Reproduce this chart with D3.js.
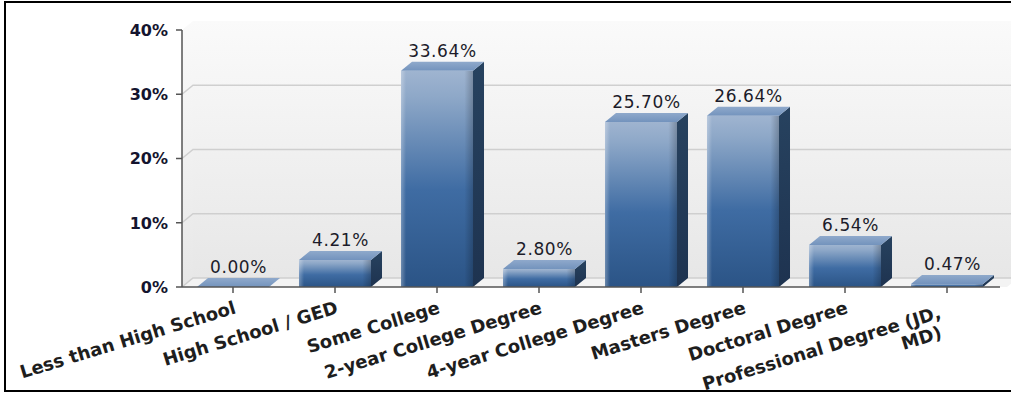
<!DOCTYPE html>
<html>
<head>
<meta charset="utf-8">
<script src="https://cdn.jsdelivr.net/npm/d3@7/dist/d3.min.js"></script>
<style>
  html, body { margin: 0; padding: 0; background: #fff; }
  svg { display: block; }
</style>
</head>
<body>
<svg id="chart" width="1011" height="393"></svg>
<script>
const categories = [
  "Less than High School",
  "High School / GED",
  "Some College",
  "2-year College Degree",
  "4-year College Degree",
  "Masters Degree",
  "Doctoral Degree",
  "Professional Degree (JD, MD)"
];
const values = [0.00, 4.21, 33.64, 2.80, 25.70, 26.64, 6.54, 0.47];
const yTicks = [0, 10, 20, 30, 40];
const yMax = 40;

(function () {
const svg = d3.select("#chart");
const pL = 182, pR = 998, pT = 30, pB = 287;
const depthX = 11, depthY = 9;
const angle = -17;

const x = d3.scaleBand().domain(categories).range([pL, pR])
  .paddingInner(0.294).paddingOuter(0.147);
const y = d3.scaleLinear().domain([0, yMax]).range([pB, pT]);

const defs = svg.append("defs");
const wallG = defs.append("linearGradient").attr("id", "wall").attr("x1", 0).attr("y1", 0).attr("x2", 0).attr("y2", 1);
wallG.append("stop").attr("offset", 0).attr("stop-color", "#fafafa");
wallG.append("stop").attr("offset", 1).attr("stop-color", "#e7e7e7");

const frontG = defs.append("linearGradient").attr("id", "front").attr("x1", 0).attr("y1", 0).attr("x2", 0).attr("y2", 1);
[[0, "#9fb4d0"], [0.12, "#8ea8c8"], [0.55, "#3f6ca3"], [1, "#2b5486"]].forEach(s =>
  frontG.append("stop").attr("offset", s[0]).attr("stop-color", s[1]));

const shadeG = defs.append("linearGradient").attr("id", "shade").attr("x1", 0).attr("y1", 0).attr("x2", 1).attr("y2", 0);
[[0, "#ffffff", 0.30], [0.07, "#ffffff", 0.0], [0.88, "#000000", 0.0], [1, "#000000", 0.22]].forEach(s =>
  shadeG.append("stop").attr("offset", s[0]).attr("stop-color", s[1]).attr("stop-opacity", s[2]));

const sideG = defs.append("linearGradient").attr("id", "side").attr("x1", 0).attr("y1", 0).attr("x2", 0).attr("y2", 1);
sideG.append("stop").attr("offset", 0).attr("stop-color", "#27425f");
sideG.append("stop").attr("offset", 1).attr("stop-color", "#1e3350");

const topG = defs.append("linearGradient").attr("id", "topface").attr("x1", 0).attr("y1", 0).attr("x2", 0).attr("y2", 1);
topG.append("stop").attr("offset", 0).attr("stop-color", "#8fa9cb");
topG.append("stop").attr("offset", 1).attr("stop-color", "#7393bd");

// frame
svg.append("rect").attr("x", 5).attr("y", 2).attr("width", 1010).attr("height", 389)
  .attr("fill", "none").attr("stroke", "#000").attr("stroke-width", 2);

// back wall
svg.append("rect").attr("x", pL + depthX).attr("y", pT - depthY)
  .attr("width", pR - pL + 9).attr("height", pB - pT)
  .attr("fill", "url(#wall)");
// left side wall
svg.append("path")
  .attr("d", `M${pL},${pT} L${pL + depthX},${pT - depthY} L${pL + depthX},${pB - depthY} L${pL},${pB} Z`)
  .attr("fill", "url(#wall)");
// floor
svg.append("path")
  .attr("d", `M${pL},${pB} L${pL + depthX},${pB - depthY} L${pR + depthX + 9},${pB - depthY} L${pR + 9},${pB} Z`)
  .attr("fill", "#f3f3f3");

// gridlines
const grid = svg.append("g");
yTicks.forEach(t => {
  if (t === yMax) return;
  const yy = y(t);
  grid.append("path")
    .attr("d", `M${pL},${yy} L${pL + depthX},${yy - depthY} L${pR + depthX + 9},${yy - depthY}`)
    .attr("fill", "none").attr("stroke", "#cfcfcf").attr("stroke-width", 1.5);
});

// bars
const bars = svg.append("g");
categories.forEach((c, i) => {
  const v = values[i];
  const bx = x(c), bw = x.bandwidth();
  const by = y(v), bh = pB - by;
  const g = bars.append("g");
  if (bh > 0.5) {
    g.append("rect").attr("x", bx).attr("y", by).attr("width", bw).attr("height", bh).attr("fill", "url(#front)");
    g.append("rect").attr("x", bx).attr("y", by).attr("width", bw).attr("height", bh).attr("fill", "url(#shade)");
    g.append("path")
      .attr("d", `M${bx + bw},${by} L${bx + bw + depthX},${by - depthY} L${bx + bw + depthX},${pB - depthY} L${bx + bw},${pB} Z`)
      .attr("fill", "url(#side)");
  }
  g.append("path")
    .attr("d", `M${bx},${by} L${bx + depthX},${by - depthY} L${bx + bw + depthX},${by - depthY} L${bx + bw},${by} Z`)
    .attr("fill", "url(#topface)");
  g.append("text")
    .attr("x", bx + bw / 2 + depthX / 2)
    .attr("y", by - depthY - 5)
    .attr("text-anchor", "middle")
    .attr("font-family", "DejaVu Sans, Verdana, sans-serif")
    .attr("font-size", 17)
    .attr("letter-spacing", 0.6)
    .attr("fill", "#1c1c2a")
    .text(v.toFixed(2) + "%");
});

// y axis
const yAxis = svg.append("g");
yAxis.append("line").attr("x1", pL).attr("x2", pL).attr("y1", pT).attr("y2", pB)
  .attr("stroke", "#555").attr("stroke-width", 1.5);
yTicks.forEach(t => {
  yAxis.append("line").attr("x1", pL - 6).attr("x2", pL).attr("y1", y(t)).attr("y2", y(t))
    .attr("stroke", "#555").attr("stroke-width", 1.5);
  yAxis.append("text").attr("x", pL - 14).attr("y", y(t)).attr("dy", "0.36em")
    .attr("text-anchor", "end")
    .attr("font-family", "DejaVu Sans, Verdana, sans-serif")
    .attr("font-weight", "bold").attr("font-size", 16)
    .attr("fill", "#14142e")
    .text(t + "%");
});

// x axis
const xAxis = svg.append("g");
xAxis.append("line").attr("x1", pL).attr("x2", pR + 2).attr("y1", pB).attr("y2", pB)
  .attr("stroke", "#555").attr("stroke-width", 1.5);
categories.forEach((c, i) => {
  const cx = x(c) + x.bandwidth() / 2;
  xAxis.append("line").attr("x1", cx).attr("x2", cx).attr("y1", pB).attr("y2", pB + 6)
    .attr("stroke", "#555").attr("stroke-width", 1.5);
  const t = xAxis.append("text")
    .attr("transform", `translate(${cx},${pB + 13}) rotate(${angle})`)
    .attr("text-anchor", "end")
    .attr("font-family", "DejaVu Sans, Verdana, sans-serif")
    .attr("font-weight", "bold").attr("font-size", 18)
    .attr("fill", "#1e1e1e");
  const words = c.split(" ");
  const maxW = 262;
  let line = [], lines = [];
  const probe = t.append("tspan");
  words.forEach(w => {
    const test = line.concat(w).join(" ");
    probe.text(test);
    if (probe.node().getComputedTextLength() > maxW && line.length) {
      lines.push(line.join(" "));
      line = [w];
    } else line.push(w);
  });
  lines.push(line.join(" "));
  probe.remove();
  lines.forEach((ln, k) => {
    t.append("tspan").attr("x", k === 0 ? 0 : -5).attr("dy", k === 0 ? "0.75em" : "1.08em").text(ln);
  });
  if (lines.length > 1) {
    t.attr("transform", `translate(${cx - 9},${pB + 18}) rotate(${angle})`);
  }
});
})();
</script>
</body>
</html>
